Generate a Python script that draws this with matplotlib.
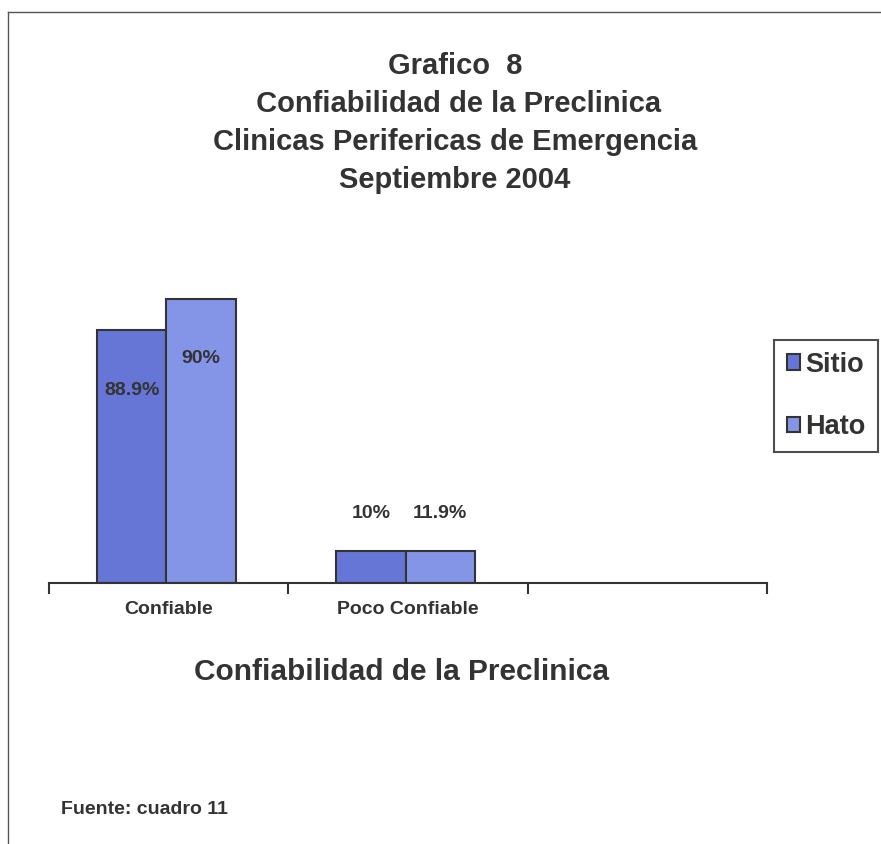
import matplotlib
matplotlib.use('Agg')
import matplotlib.pyplot as plt
from matplotlib.lines import Line2D
import numpy as np

plt.rcParams['font.family'] = ['Liberation Sans', 'DejaVu Sans']
plt.rcParams['font.weight'] = 'bold'

# ============================================================
# Datos
# ============================================================
categorias = ['Confiable', 'Poco Confiable', '']
series = ['Sitio', 'Hato']
sitio = [80, 10]          # altura de barra como se ve en la imagen
hato = [90, 10]
etiquetas_sitio = ['88.9%', '10%']
etiquetas_hato = ['90%', '11.9%']

titulo = 'Grafico  8\n Confiabilidad de la Preclinica\nClinicas Perifericas de Emergencia\nSeptiembre 2004'
eje_x = 'Confiabilidad de la Preclinica'
fuente = 'Fuente: cuadro 11'

color_sitio = '#6676d6'
color_hato = '#8494e6'
borde = '#333333'
texto = '#333333'

# ============================================================
# Figura
# ============================================================
fig = plt.figure(figsize=(8.81, 8.44), dpi=100)
ax = fig.add_axes([49 / 881, (844 - 583) / 844, 718 / 881, 316 / 844])

ancho = 0.29
x = np.arange(len(sitio)) + 0.49
b1 = ax.bar(x - ancho / 2, sitio, ancho, color=color_sitio, edgecolor=borde, linewidth=1.5)
b2 = ax.bar(x + ancho / 2, hato, ancho, color=color_hato, edgecolor=borde, linewidth=1.5)

# etiquetas de datos
for barras, etq in ((b1, etiquetas_sitio), (b2, etiquetas_hato)):
    for rect, t in zip(barras, etq):
        h = rect.get_height()
        y = h - 19 if h > 50 else h + 12
        ax.text(rect.get_x() + rect.get_width() / 2, y, t, ha='center', va='center',
                fontsize=14, fontweight='bold', color=texto)

ax.set_xlim(0, 3)
ax.set_ylim(0, 100)
ax.set_xticks([0, 1, 2, 3])
ax.set_xticklabels([])
ax.set_xticks([0.5, 1.5, 2.5], minor=True)
ax.set_xticklabels(categorias, minor=True, fontsize=14, fontweight='bold', color=texto)
ax.tick_params(axis='x', which='major', direction='out', length=8, width=1.5, color=borde)
ax.tick_params(axis='x', which='minor', length=0, pad=13)
ax.set_yticks([])
for s in ['left', 'right', 'top']:
    ax.spines[s].set_visible(False)
ax.spines['bottom'].set_color(borde)
ax.spines['bottom'].set_linewidth(1.5)
ax.patch.set_alpha(0)

# leyenda
handles = [plt.Rectangle((0, 0), 1, 1, facecolor=c, edgecolor=borde, linewidth=1.5)
           for c in (color_sitio, color_hato)]
leg = fig.legend(handles, series, loc='center right', bbox_to_anchor=(878 / 881, (844 - 396) / 844),
                 fontsize=19.5, frameon=True, fancybox=False, handlelength=0.5, handleheight=0.5,
                 handletextpad=0.2, labelspacing=1.35, borderpad=0.45, borderaxespad=0)
leg.get_frame().set_edgecolor('#222222')
leg.get_frame().set_linewidth(1.5)
for t in leg.get_texts():
    t.set_color(texto)
    t.set_fontweight('bold')

# textos
fig.text(455 / 881, 1 - 52 / 844, titulo, ha='center', va='top', fontsize=21,
         fontweight='bold', color=texto, linespacing=1.46)
fig.text(401 / 881, 1 - 672 / 844, eje_x, ha='center', va='center', fontsize=21.5,
         fontweight='bold', color=texto)
fig.text(61 / 881, 1 - 809 / 844, fuente, ha='left', va='center', fontsize=14,
         fontweight='bold', color=texto)

# marco de la pagina
fig.add_artist(Line2D([8 / 881, 8 / 881], [0, 1 - 12 / 844], transform=fig.transFigure,
                      color='#555555', linewidth=1))
fig.add_artist(Line2D([8 / 881, 1], [1 - 12 / 844, 1 - 12 / 844], transform=fig.transFigure,
                      color='#555555', linewidth=1))

fig.savefig('out.png', dpi=100, facecolor='white')
